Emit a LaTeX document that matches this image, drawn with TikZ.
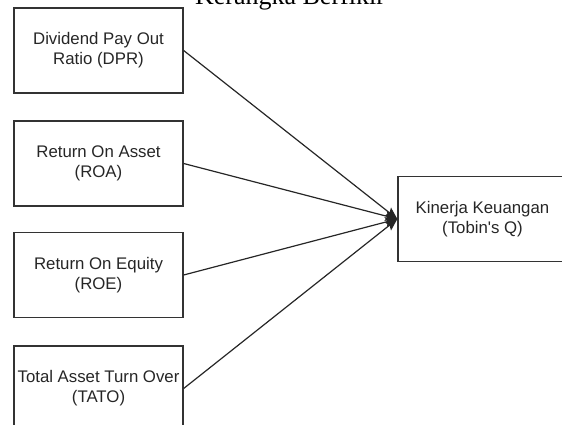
\documentclass[tikz,border=0pt]{standalone}
\usepackage{fontspec}
\setmainfont{Liberation Serif}
\newfontfamily\boxfont{Liberation Sans}
\usetikzlibrary{arrows.meta}
\tikzset{
  box/.style={draw=black!80, line width=1.3pt, minimum width=169pt, minimum height=85pt,
    align=center, inner sep=0pt, font=\boxfont\fontsize{16.8}{20}\selectfont, text=black!85},
  conn/.style={draw=black!85, line width=1.2pt, -{Stealth[length=12pt,width=10pt,inset=2pt]}}
}
\begin{document}
\begin{tikzpicture}[x=1pt,y=-1pt]
\useasboundingbox (0,0) rectangle (562,425);
\clip (0,0) rectangle (562,425);
\node[anchor=base, font=\fontsize{26}{30}\selectfont] (title) at (290,5) {Kerangka Berfikir};
\node[box] (dpr) at (98.5,50.5) {Dividend Pay Out\\Ratio (DPR)};
\node[box] (roa) at (98.5,163.5) {Return On Asset\\(ROA)};
\node[box] (roe) at (98.5,275) {Return On Equity\\(ROE)};
\node[box] (tato) at (98.5,388.5) {Total Asset Turn Over\\(TATO)};
\node[box] (q) at (482.5,219) {Kinerja Keuangan\\(Tobin's Q)};
\draw[conn] (dpr.east) -- (q.west);
\draw[conn] (roa.east) -- (q.west);
\draw[conn] (roe.east) -- (q.west);
\draw[conn] (tato.east) -- (q.west);
\end{tikzpicture}
\end{document}
